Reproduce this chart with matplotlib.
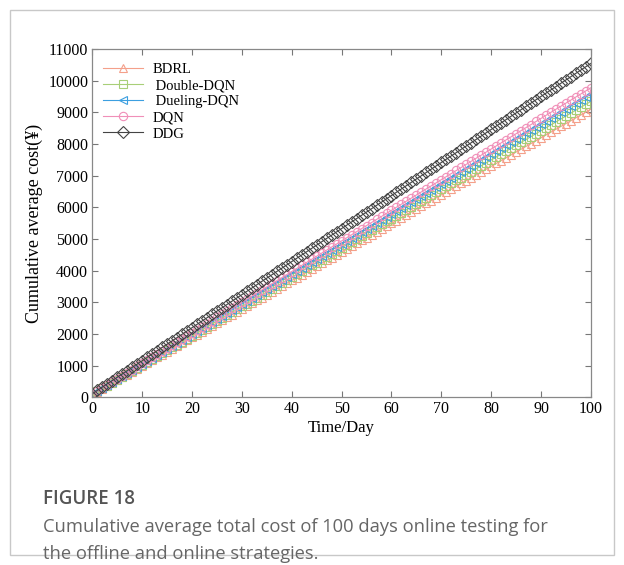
import matplotlib
matplotlib.use("Agg")
import matplotlib.pyplot as plt
from matplotlib.patches import Rectangle

days = list(range(101))

bdrl = [85, 175, 265, 355, 446, 536, 626, 716, 806, 896, 987,
        1077, 1167, 1257, 1347, 1437, 1527, 1618, 1708, 1798, 1888,
        1978, 2068, 2158, 2249, 2339, 2429, 2519, 2609, 2699, 2790,
        2880, 2970, 3060, 3150, 3240, 3330, 3421, 3511, 3601, 3691,
        3781, 3871, 3961, 4052, 4142, 4232, 4322, 4412, 4502, 4593,
        4683, 4773, 4863, 4953, 5043, 5133, 5224, 5314, 5404, 5494,
        5584, 5674, 5764, 5855, 5945, 6035, 6125, 6215, 6305, 6396,
        6486, 6576, 6666, 6756, 6846, 6936, 7027, 7117, 7207, 7297,
        7387, 7477, 7567, 7658, 7748, 7838, 7928, 8018, 8108, 8199,
        8289, 8379, 8469, 8559, 8649, 8739, 8830, 8920, 9010, 9100]

double_dqn = [90, 183, 275, 368, 460, 553, 646, 738, 831, 923, 1016,
              1109, 1201, 1294, 1386, 1479, 1572, 1664, 1757, 1849, 1942,
              2035, 2127, 2220, 2312, 2405, 2498, 2590, 2683, 2775, 2868,
              2961, 3053, 3146, 3238, 3331, 3424, 3516, 3609, 3701, 3794,
              3887, 3979, 4072, 4164, 4257, 4350, 4442, 4535, 4627, 4720,
              4813, 4905, 4998, 5090, 5183, 5276, 5368, 5461, 5553, 5646,
              5739, 5831, 5924, 6016, 6109, 6202, 6294, 6387, 6479, 6572,
              6665, 6757, 6850, 6942, 7035, 7128, 7220, 7313, 7405, 7498,
              7591, 7683, 7776, 7868, 7961, 8054, 8146, 8239, 8331, 8424,
              8517, 8609, 8702, 8794, 8887, 8980, 9072, 9165, 9257, 9350]

dueling_dqn = [95, 190, 285, 380, 474, 569, 664, 759, 854, 949, 1044,
               1138, 1233, 1328, 1423, 1518, 1613, 1707, 1802, 1897, 1992,
               2087, 2182, 2277, 2371, 2466, 2561, 2656, 2751, 2846, 2941,
               3035, 3130, 3225, 3320, 3415, 3510, 3604, 3699, 3794, 3889,
               3984, 4079, 4174, 4268, 4363, 4458, 4553, 4648, 4743, 4838,
               4932, 5027, 5122, 5217, 5312, 5407, 5501, 5596, 5691, 5786,
               5881, 5976, 6071, 6165, 6260, 6355, 6450, 6545, 6640, 6735,
               6829, 6924, 7019, 7114, 7209, 7304, 7398, 7493, 7588, 7683,
               7778, 7873, 7968, 8062, 8157, 8252, 8347, 8442, 8537, 8632,
               8726, 8821, 8916, 9011, 9106, 9201, 9295, 9390, 9485, 9580]

dqn = [100, 197, 294, 390, 487, 584, 681, 778, 874, 971, 1068,
       1165, 1262, 1358, 1455, 1552, 1649, 1746, 1842, 1939, 2036,
       2133, 2230, 2326, 2423, 2520, 2617, 2714, 2810, 2907, 3004,
       3101, 3198, 3294, 3391, 3488, 3585, 3682, 3778, 3875, 3972,
       4069, 4166, 4262, 4359, 4456, 4553, 4650, 4746, 4843, 4940,
       5037, 5134, 5230, 5327, 5424, 5521, 5618, 5714, 5811, 5908,
       6005, 6102, 6198, 6295, 6392, 6489, 6586, 6682, 6779, 6876,
       6973, 7070, 7166, 7263, 7360, 7457, 7554, 7650, 7747, 7844,
       7941, 8038, 8134, 8231, 8328, 8425, 8522, 8618, 8715, 8812,
       8909, 9006, 9102, 9199, 9296, 9393, 9490, 9586, 9683, 9780]

ddg = [110, 215, 318, 424, 527, 632, 736, 841, 945, 1050, 1154,
       1259, 1363, 1467, 1572, 1676, 1780, 1885, 1989, 2094, 2198,
       2302, 2407, 2511, 2616, 2720, 2824, 2929, 3033, 3138, 3242,
       3346, 3451, 3555, 3660, 3764, 3868, 3973, 4077, 4182, 4286,
       4390, 4495, 4599, 4704, 4808, 4912, 5017, 5121, 5226, 5330,
       5434, 5539, 5643, 5748, 5852, 5956, 6061, 6165, 6270, 6374,
       6478, 6583, 6687, 6792, 6896, 7000, 7105, 7209, 7314, 7418,
       7522, 7627, 7731, 7836, 7940, 8044, 8149, 8253, 8358, 8462,
       8566, 8671, 8775, 8880, 8984, 9088, 9193, 9297, 9402, 9506,
       9610, 9715, 9819, 9924, 10028, 10132, 10237, 10341, 10446, 10550]

series = [
    ("BDRL", bdrl, "#f4a08a", "^"),
    ("Double-DQN", double_dqn, "#a8cf78", "s"),
    ("Dueling-DQN", dueling_dqn, "#3c9fe0", "<"),
    ("DQN", dqn, "#f08fb8", "o"),
    ("DDG", ddg, "#444444", "D"),
]

x_ticks = list(range(0, 101, 10))
y_ticks = list(range(0, 11001, 1000))

serif = "Liberation Serif"

fig = plt.figure(figsize=(6.24, 5.65), dpi=100)

# card border
fig.patches.append(Rectangle((10 / 624, 10 / 565), 604 / 624, 545 / 565,
                             transform=fig.transFigure, fill=False,
                             edgecolor="#c8c8c8", linewidth=1.0))

ax = fig.add_axes([0.148, 0.297, 0.799, 0.616])
for name, vals, color, marker in series:
    ax.plot(days, vals, color=color, marker=marker, markersize=6,
            markerfacecolor="none", markeredgewidth=0.8, linewidth=0.8,
            label=(" " + name) if name in ("Double-DQN", "Dueling-DQN") else name)

ax.set_xlim(0, 100)
ax.set_ylim(0, 11000)
ax.set_xticks(x_ticks)
ax.set_yticks(y_ticks)
ax.tick_params(direction="in", top=True, right=True, length=4, width=0.8,
               color="#777777", labelsize=11.5, pad=3)
for lab in ax.get_xticklabels() + ax.get_yticklabels():
    lab.set_family(serif)
for sp in ax.spines.values():
    sp.set_color("#888888")
    sp.set_linewidth(0.9)

ax.set_xlabel("Time/Day", family=serif, fontsize=12, labelpad=2)
ax.set_ylabel("Cumulative average cost(¥)", family=serif, fontsize=13, labelpad=4)

leg = ax.legend(loc="upper left", frameon=False, prop={"family": serif, "size": 10.5},
                handlelength=2.8, labelspacing=0.2, borderaxespad=0.3,
                handletextpad=0.6, bbox_to_anchor=(0.0, 0.99))

fig.text(43 / 624, 1 - 499 / 565, "FIGURE 18", family="Open Sans", fontsize=13.5,
         fontweight="semibold", color="#555555", va="center")
fig.text(43 / 624, 1 - 527 / 565,
         "Cumulative average total cost of 100 days online testing for",
         family="Open Sans", fontsize=13.2, color="#666666", va="center")
fig.text(43 / 624, 1 - 554 / 565, "the offline and online strategies.",
         family="Open Sans", fontsize=13.2, color="#666666", va="center")

fig.savefig("out.png", dpi=100)
